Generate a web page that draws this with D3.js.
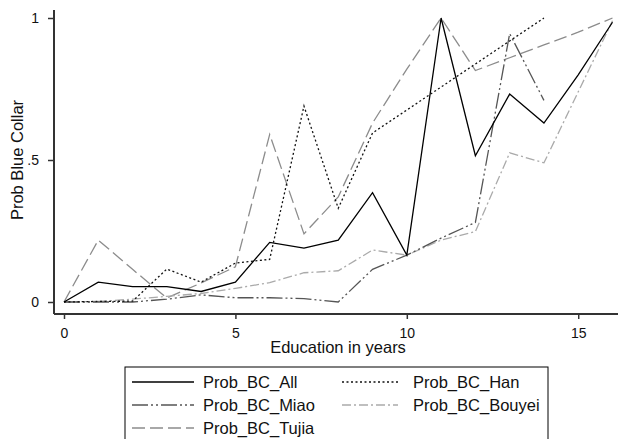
<!DOCTYPE html>
<html>
<head>
<meta charset="utf-8">
<script src="https://cdn.jsdelivr.net/npm/d3@7"></script>
<style>
  body { margin: 0; background: #fff; }
  svg { display: block; font-family: "Liberation Sans", Arial, sans-serif; }
</style>
</head>
<body>
<svg id="chart" width="618" height="439"></svg>
<script>
// Data
var years = [0, 1, 2, 3, 4, 5, 6, 7, 8, 9, 10, 11, 12, 13, 14, 15, 16];
var probAll    = [0, 0.07, 0.054, 0.054, 0.037, 0.07, 0.21, 0.19, 0.218, 0.385, 0.165, 1.0, 0.515, 0.732, 0.63, 0.80, 0.985];
var probHan    = [0, 0.002, 0.003, 0.116, 0.07, 0.137, 0.15, 0.69, 0.33, 0.595, 0.676, 0.757, 0.838, 0.919, 1.0];
var probMiao   = [0, 0, 0, 0.01, 0.025, 0.015, 0.015, 0.012, 0, 0.115, 0.165, 0.225, 0.28, 0.945, 0.71];
var probBouyei = [0, 0.002, 0.01, 0.02, 0.03, 0.048, 0.068, 0.103, 0.11, 0.183, 0.165, 0.218, 0.248, 0.525, 0.49, 0.74, 0.99];
var probTujia  = [0, 0.218, 0.115, 0.014, 0.067, 0.124, 0.59, 0.24, 0.37, 0.63, 0.82, 1.0, 0.815, 0.86, 0.905, 0.95, 1.0];
var xTicks = [0, 5, 10, 15];
var yTicks = [0, 0.5, 1];
var yTickLabels = ["0", ".5", "1"];

var series = [
  { name: "Prob_BC_All",    values: probAll,    color: "#000",    dash: null },
  { name: "Prob_BC_Han",    values: probHan,    color: "#111",    dash: "2,2.5" },
  { name: "Prob_BC_Miao",   values: probMiao,   color: "#555",    dash: "16,3,2,3,2,3" },
  { name: "Prob_BC_Bouyei", values: probBouyei, color: "#aaa",    dash: "9,3,2,3" },
  { name: "Prob_BC_Tujia",  values: probTujia,  color: "#8c8c8c", dash: "13,5" }
];

var svg = d3.select("#chart");

var x = d3.scaleLinear().domain([0, 16]).range([64, 612.5]);
var y = d3.scaleLinear().domain([0, 1]).range([302, 18]);

// Axes
var xAxis = svg.append("g")
    .attr("transform", "translate(0,314)")
    .call(d3.axisBottom(x).tickValues(xTicks).tickSize(5).tickPadding(9).tickSizeOuter(0));
xAxis.select(".domain").attr("d", "M54,0H618");

var yAxis = svg.append("g")
    .attr("transform", "translate(54,0)")
    .call(d3.axisLeft(y).tickValues(yTicks).tickSize(6).tickPadding(9)
      .tickFormat(function(d, i) { return yTickLabels[i]; }).tickSizeOuter(0));
yAxis.select(".domain").attr("d", "M0,10V314");

svg.selectAll(".domain").attr("stroke", "#333").attr("stroke-width", 2);
svg.selectAll(".tick line").attr("stroke", "#333").attr("stroke-width", 1.5);
svg.selectAll(".tick text")
    .attr("fill", "#111")
    .style("font-size", "14px")
    .style("font-family", "Liberation Sans, Arial, sans-serif");

// Axis titles
svg.append("text")
    .attr("x", 338).attr("y", 353)
    .attr("text-anchor", "middle")
    .style("font-size", "16.5px")
    .attr("fill", "#111")
    .text("Education in years");

svg.append("text")
    .attr("transform", "translate(23,160) rotate(-90)")
    .attr("text-anchor", "middle")
    .style("font-size", "16.5px")
    .attr("fill", "#111")
    .text("Prob Blue Collar");

// Lines
var line = d3.line()
    .x(function(d, i) { return x(years[i]); })
    .y(function(d) { return y(d); });

svg.append("g").selectAll("path")
  .data(series.slice().reverse())
  .join("path")
    .attr("d", function(s) { return line(s.values); })
    .attr("fill", "none")
    .attr("stroke", function(s) { return s.color; })
    .attr("stroke-width", 1.3)
    .attr("stroke-dasharray", function(s) { return s.dash; });

// Legend
var legend = svg.append("g");
legend.append("rect")
    .attr("x", 125).attr("y", 367)
    .attr("width", 423).attr("height", 100)
    .attr("fill", "#fff")
    .attr("stroke", "#000")
    .attr("stroke-width", 1);

var legendPos = [
  { sx: 132, ex: 194, tx: 203, row: 0 },
  { sx: 342, ex: 398, tx: 413, row: 0 },
  { sx: 132, ex: 194, tx: 203, row: 1 },
  { sx: 342, ex: 398, tx: 413, row: 1 },
  { sx: 132, ex: 194, tx: 203, row: 2 }
];
var rowY = [382, 405, 428];
var legendOrder = ["Prob_BC_All", "Prob_BC_Han", "Prob_BC_Miao", "Prob_BC_Bouyei", "Prob_BC_Tujia"];

legendOrder.forEach(function(name, i) {
  var s = series.find(function(d) { return d.name === name; });
  var p = legendPos[i];
  legend.append("line")
      .attr("x1", p.sx).attr("x2", p.ex)
      .attr("y1", rowY[p.row]).attr("y2", rowY[p.row])
      .attr("stroke", s.color)
      .attr("stroke-width", 1.3)
      .attr("stroke-dasharray", s.dash);
  legend.append("text")
      .attr("x", p.tx).attr("y", rowY[p.row])
      .attr("dy", "0.36em")
      .style("font-size", "16.5px")
      .attr("fill", "#111")
      .text(s.name);
});
</script>
</body>
</html>
